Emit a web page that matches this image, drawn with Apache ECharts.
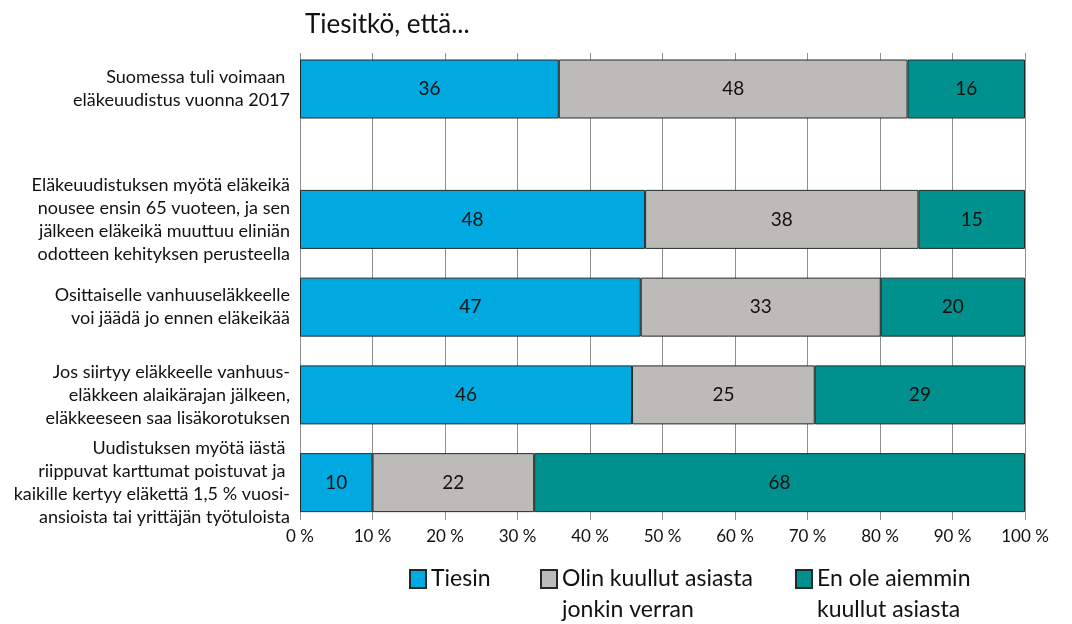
<!DOCTYPE html>
<html>
<head>
<meta charset="utf-8">
<script src="https://cdn.jsdelivr.net/npm/echarts@6/dist/echarts.min.js"></script>
<style>
  html, body { margin: 0; padding: 0; background: #fff; }
  #chart { width: 1072px; height: 624px; }
</style>
</head>
<body>
<div id="chart"></div>
<script>
// question texts (y axis), top to bottom
const categories = [
  'Suomessa tuli voimaan \neläkeuudistus vuonna 2017',
  'Eläkeuudistuksen myötä eläkeikä\nnousee ensin 65 vuoteen, ja sen\njälkeen eläkeikä muuttuu eliniän\nodotteen kehityksen perusteella',
  'Osittaiselle vanhuuseläkkeelle\nvoi jäädä jo ennen eläkeikää',
  'Jos siirtyy eläkkeelle vanhuus-\neläkkeen alaikärajan jälkeen,\neläkkeeseen saa lisäkorotuksen',
  'Uudistuksen myötä iästä \nriippuvat karttumat poistuvat ja \nkaikille kertyy eläkettä 1,5 % vuosi-\nansioista tai yrittäjän työtuloista'
]

// shares in % (labels show rounded values)
const tiesin = [35.7, 47.6, 47.0, 45.8, 10.0]
const kuullut = [48.1, 37.7, 33.1, 25.2, 22.3]
const enOle = [16.2, 14.7, 19.9, 29.0, 67.7]

const seriesNames = ['Tiesin', 'Olin kuullut asiasta jonkin verran', 'En ole aiemmin kuullut asiasta']
// leading empty line keeps the square level with the first text line
const legendTexts = ['Tiesin', '\nOlin kuullut asiasta\njonkin verran', '\nEn ole aiemmin\nkuullut asiasta']
const colors = ['#00aae1', '#bdbbb8', '#00918e']

const FONT = 'Lato'
const TEXT = '#111111'

const chart = echarts.init(document.getElementById('chart'))

const plotLeft = 300
const plotRight = 47

// grid 0 = background with gridlines and % axis, grid 1 = first bar, grid 2 = the other four
const grids = [
  { left: plotLeft, right: plotRight, top: 53, height: 460 },
  { left: plotLeft, right: plotRight, top: 53, height: 72 },
  { left: plotLeft, right: plotRight, top: 175.5, height: 351 }
]

const hiddenX = idx => ({
  type: 'value', gridIndex: idx, min: 0, max: 100, show: false
})

const catAxis = (idx, data) => ({
  type: 'category',
  gridIndex: idx,
  inverse: true,
  data: data,
  axisLine: { show: false },
  axisTick: { show: false },
  axisLabel: {
    color: TEXT,
    fontFamily: FONT,
    fontSize: 18,
    lineHeight: 23,
    align: 'right',
    margin: 10
  }
})

const makeSeries = (i, values, idx, from, to) => ({
  name: seriesNames[i],
  type: 'bar',
  stack: 'g' + idx,
  xAxisIndex: idx,
  yAxisIndex: idx,
  barWidth: 59,
  data: values.slice(from, to),
  itemStyle: { color: colors[i], borderColor: '#1f2b2b', borderWidth: 1 },
  label: {
    show: true,
    position: 'inside',
    formatter: p => Math.round(p.value),
    color: TEXT,
    fontFamily: FONT,
    fontSize: 19
  }
})

const allValues = [tiesin, kuullut, enOle]
const series = []
allValues.forEach((vals, i) => {
  series.push(makeSeries(i, vals, 1, 0, 1))
  series.push(makeSeries(i, vals, 2, 1, 5))
})

const legendLefts = [409, 540, 795]
const legendTops = [563.5, 532.5, 532.5]
const legends = seriesNames.map((name, i) => ({
  data: [name],
  left: legendLefts[i],
  top: legendTops[i],
  padding: 0,
  icon: 'rect',
  itemWidth: 16,
  itemHeight: 18,
  formatter: () => legendTexts[i],
  selectedMode: false,
  textStyle: {
    color: TEXT,
    fontFamily: FONT,
    fontSize: 23,
    lineHeight: 31
  }
}))

const option = {
  animation: false,
  title: {
    text: 'Tiesitkö, että...',
    left: 300,
    top: 7,
    textStyle: { color: TEXT, fontFamily: FONT, fontSize: 26, fontWeight: 'normal' }
  },
  legend: legends,
  grid: grids,
  xAxis: [
    {
      type: 'value',
      gridIndex: 0,
      min: 0,
      max: 100,
      interval: 10,
      axisLine: { show: false },
      axisTick: { show: true, length: 7, lineStyle: { color: '#8f8f8f' } },
      splitLine: { show: true, lineStyle: { color: '#8f8f8f', width: 1 } },
      axisLabel: {
        formatter: '{value} %',
        color: TEXT,
        fontFamily: FONT,
        fontSize: 17,
        margin: 15
      }
    },
    hiddenX(1),
    hiddenX(2)
  ],
  yAxis: [
    { type: 'value', gridIndex: 0, show: false },
    catAxis(1, categories.slice(0, 1)),
    catAxis(2, categories.slice(1))
  ],
  series: series
}

chart.setOption(option)
</script>
</body>
</html>
